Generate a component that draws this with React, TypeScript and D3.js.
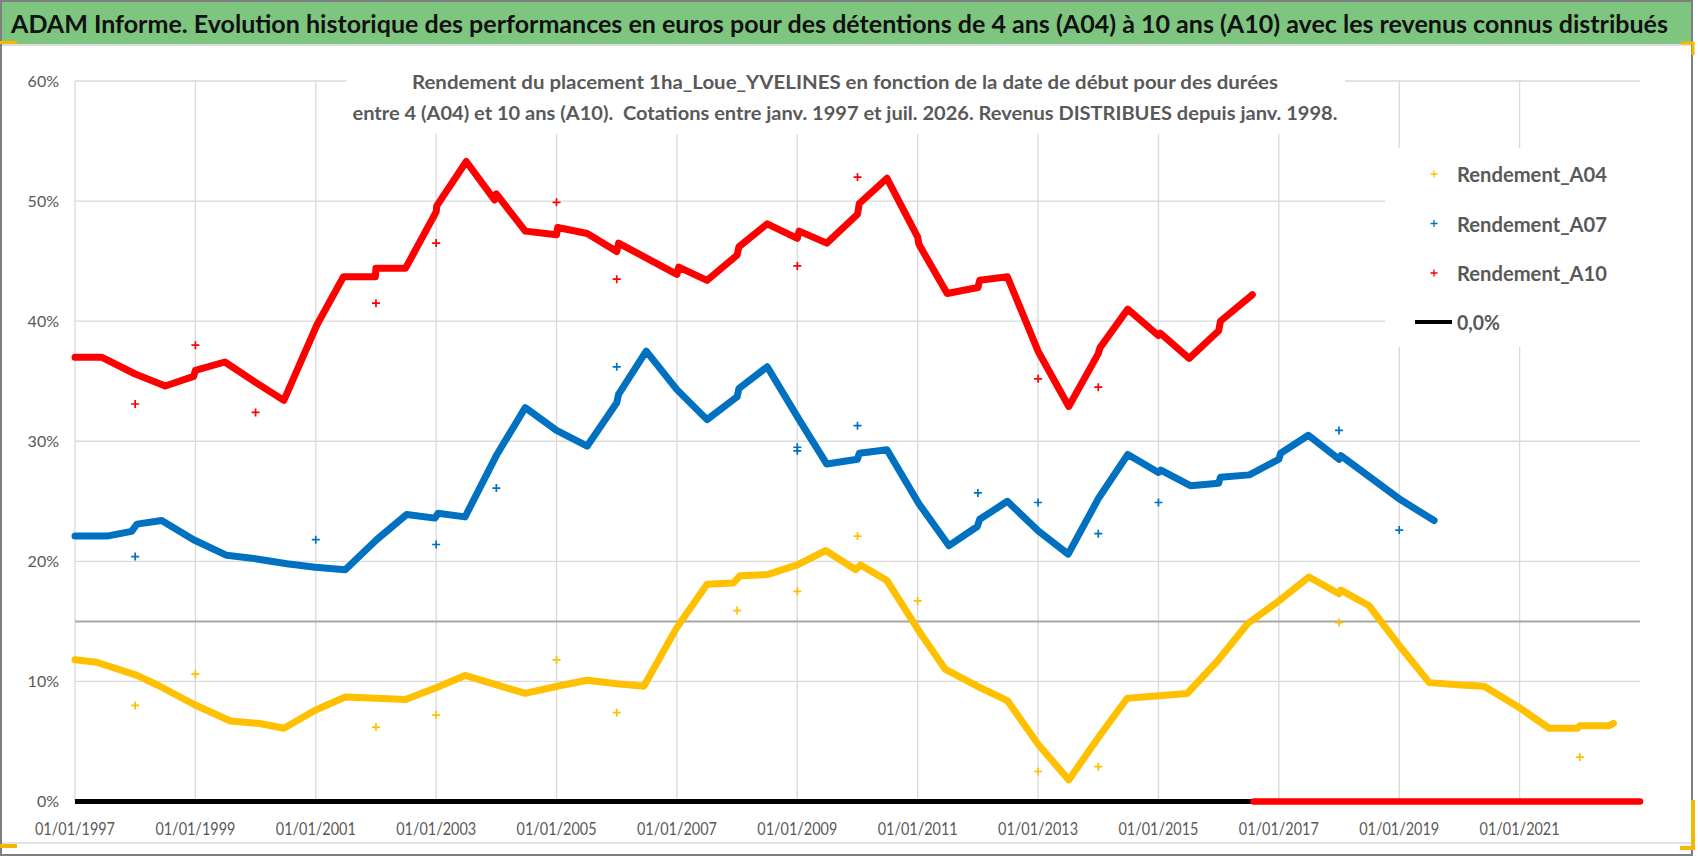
import React from "react";
import * as d3 from "d3";

const W = 1698;
const H = 856;

const titleText =
  "ADAM Informe. Evolution historique des performances en euros pour des détentions de 4 ans (A04) à 10 ans (A10) avec les revenus connus distribués";
const subtitleLines = [
  "Rendement du placement 1ha_Loue_YVELINES en fonction de la date de début pour des durées",
  "entre 4 (A04) et 10 ans (A10).  Cotations entre janv. 1997 et juil. 2026. Revenus DISTRIBUES depuis janv. 1998.",
];

const yearTicks = [1997, 1999, 2001, 2003, 2005, 2007, 2009, 2011, 2013, 2015, 2017, 2019, 2021];
const pctTicks = [0, 10, 20, 30, 40, 50, 60];
const refLevel = 15;

// [decimal year, rendement %]
const serieA04: [number, number][] = [
  [1997.0, 11.8], [1997.36, 11.6], [1998.03, 10.5], [1998.41, 9.6], [1998.97, 8.1],
  [1999.58, 6.7], [2000.07, 6.5], [2000.47, 6.1], [2000.99, 7.6], [2001.49, 8.7],
  [2002.01, 8.6], [2002.49, 8.5], [2003.01, 9.5], [2003.48, 10.5], [2003.95, 9.8],
  [2004.48, 9.0], [2005.01, 9.6], [2005.51, 10.1], [2006.0, 9.8], [2006.45, 9.6],
  [2007.0, 14.5], [2007.5, 18.1], [2007.94, 18.2], [2008.05, 18.8], [2008.5, 18.9],
  [2009.0, 19.7], [2009.47, 20.9], [2009.97, 19.3], [2010.05, 19.7], [2010.49, 18.4],
  [2011.02, 14.2], [2011.46, 11.0], [2011.99, 9.6], [2012.49, 8.4], [2013.01, 4.7],
  [2013.51, 1.8], [2014.04, 5.6], [2014.48, 8.6], [2015.01, 8.8], [2015.48, 9.0],
  [2015.98, 11.7], [2016.48, 14.8], [2017.0, 16.7], [2017.5, 18.7], [2018.0, 17.3],
  [2018.03, 17.6], [2018.5, 16.3], [2019.03, 12.8], [2019.5, 9.9], [2020.02, 9.7],
  [2020.41, 9.6], [2021.0, 7.8], [2021.49, 6.1], [2021.96, 6.1], [2022.0, 6.3],
  [2022.48, 6.3], [2022.56, 6.5],
];

const serieA07: [number, number][] = [
  [1997.0, 22.1], [1997.53, 22.1], [1997.94, 22.5], [1998.03, 23.1], [1998.44, 23.4],
  [1998.97, 21.8], [1999.52, 20.5], [2000.02, 20.2], [2000.52, 19.8], [2000.99, 19.5],
  [2001.49, 19.3], [2002.01, 21.8], [2002.51, 23.9], [2002.98, 23.6], [2003.03, 24.0],
  [2003.48, 23.7], [2004.01, 28.9], [2004.48, 32.8], [2005.0, 30.9], [2005.51, 29.6],
  [2006.0, 33.2], [2006.03, 33.9], [2006.49, 37.5], [2007.0, 34.3], [2007.5, 31.8],
  [2008.0, 33.7], [2008.03, 34.4], [2008.5, 36.2], [2009.03, 31.8], [2009.49, 28.1],
  [2010.0, 28.5], [2010.03, 29.0], [2010.49, 29.3], [2011.02, 24.8], [2011.52, 21.3],
  [2011.99, 22.9], [2012.03, 23.5], [2012.49, 25.0], [2013.01, 22.5], [2013.5, 20.6],
  [2014.01, 25.3], [2014.49, 28.9], [2015.0, 27.4], [2015.04, 27.6], [2015.53, 26.3],
  [2016.0, 26.5], [2016.03, 27.0], [2016.51, 27.2], [2017.0, 28.5], [2017.03, 29.0],
  [2017.49, 30.5], [2018.0, 28.5], [2018.03, 28.8], [2019.03, 25.1], [2019.58, 23.4],
];

const serieA10: [number, number][] = [
  [1997.0, 37.0], [1997.44, 37.0], [1998.0, 35.6], [1998.5, 34.6], [1998.97, 35.4],
  [1999.0, 35.9], [1999.49, 36.6], [2000.0, 34.9], [2000.47, 33.4], [2001.02, 39.7],
  [2001.46, 43.7], [2001.99, 43.7], [2002.0, 44.4], [2002.49, 44.4], [2003.0, 49.1],
  [2003.01, 49.6], [2003.5, 53.3], [2003.97, 50.1], [2004.0, 50.6], [2004.48, 47.5],
  [2005.0, 47.2], [2005.02, 47.8], [2005.51, 47.3], [2006.0, 45.8], [2006.03, 46.5],
  [2007.0, 43.9], [2007.03, 44.5], [2007.5, 43.4], [2008.0, 45.5], [2008.03, 46.2],
  [2008.5, 48.1], [2009.0, 46.9], [2009.03, 47.5], [2009.49, 46.5], [2010.0, 48.9],
  [2010.03, 49.8], [2010.49, 51.9], [2011.0, 47.0], [2011.02, 46.4], [2011.49, 42.3],
  [2012.0, 42.8], [2012.03, 43.4], [2012.49, 43.7], [2013.0, 37.5], [2013.51, 32.9],
  [2014.0, 37.3], [2014.03, 37.8], [2014.49, 41.0], [2015.0, 38.8], [2015.03, 39.0],
  [2015.51, 36.9], [2016.0, 39.2], [2016.03, 40.0], [2016.56, 42.2],
];

// isolated January points off the main bands
const pointsA04: [number, number][] = [
  [1998.0, 8.0], [1999.0, 10.6], [2002.0, 6.2], [2003.0, 7.2], [2005.0, 11.8],
  [2006.0, 7.4], [2008.0, 15.9], [2009.0, 17.5], [2010.0, 22.1], [2011.0, 16.7],
  [2013.0, 2.5], [2014.0, 2.9], [2018.0, 14.9], [2022.0, 3.7],
];
const pointsA07: [number, number][] = [
  [1998.0, 20.4], [2001.0, 21.8], [2003.0, 21.4], [2004.0, 26.1], [2006.0, 36.2],
  [2009.0, 29.2], [2009.0, 29.5], [2010.0, 31.3], [2012.0, 25.7], [2013.0, 24.9],
  [2014.0, 22.3], [2015.0, 24.9], [2018.0, 30.9], [2019.0, 22.6],
];
const pointsA10: [number, number][] = [
  [1998.0, 33.1], [1999.0, 38.0], [2000.0, 32.4], [2002.0, 41.5], [2003.0, 46.5],
  [2005.0, 49.9], [2006.0, 43.5], [2009.0, 44.6], [2010.0, 52.0], [2013.0, 35.2],
  [2014.0, 34.5],
];

const zeroBlack: [number, number][] = [[1997.0, 0], [2016.56, 0]];
const zeroRed: [number, number][] = [[2016.58, 0], [2023.0, 0]];

const legendLabels = ["Rendement_A04", "Rendement_A07", "Rendement_A10", "0,0%"];
const colors = ["#ffc000", "#0070c0", "#ff0000", "#000000"];

const FONT = "Lato, 'Open Sans', 'DejaVu Sans', sans-serif";
const GREY = "#595959";

const x = d3.scaleLinear().domain([1997, 2023]).range([75, 1640]);
const y = d3.scaleLinear().domain([0, 60]).range([801.5, 81]);
const line = d3
  .line<[number, number]>()
  .x((d) => x(d[0]))
  .y((d) => y(d[1]));

const Plus = ({ cx, cy, color, r = 4, w = 1.7 }: { cx: number; cy: number; color: string; r?: number; w?: number }) => (
  <path d={`M${cx - r},${cy}H${cx + r}M${cx},${cy - r}V${cy + r}`} stroke={color} strokeWidth={w} fill="none" />
);

export default function App() {
  const bands = [serieA04, serieA07, serieA10];
  const points = [pointsA04, pointsA07, pointsA10];
  const legendY = [174, 223.5, 273, 322];

  return (
    <svg
      width={W}
      height={H}
      viewBox={`0 0 ${W} ${H}`}
      style={{ position: "absolute", left: 0, top: 0, display: "block", background: "#fff" }}
      fontFamily={FONT}
    >
      {/* title bar */}
      <rect x={0} y={0} width={1692} height={44} fill="#7ec680" />
      <line x1={0} x2={1692} y1={45} y2={45} stroke="#d0d0d0" strokeWidth={1.5} />
      <text x={11} y={33} fontSize={24.5} fontWeight={700} fill="#111" textLength={1657} lengthAdjust="spacingAndGlyphs">
        {titleText}
      </text>

      {/* gridlines */}
      {pctTicks.filter((p) => p > 0).map((p) => (
        <line key={"h" + p} x1={x(1997)} x2={x(2023)} y1={y(p)} y2={y(p)} stroke="#d9d9d9" strokeWidth={1.3} />
      ))}
      {yearTicks.map((t) => (
        <line key={"v" + t} x1={x(t)} x2={x(t)} y1={y(60)} y2={y(0)} stroke="#d9d9d9" strokeWidth={1.3} />
      ))}

      {/* subtitle box */}
      <rect x={346} y={58} width={999} height={76} fill="#fff" />
      {subtitleLines.map((s, i) => (
        <text
          key={s}
          x={845}
          y={89 + i * 31}
          textAnchor="middle"
          fontSize={19}
          fontWeight={700}
          fill={GREY}
          textLength={i === 0 ? 866 : 985}
          lengthAdjust="spacingAndGlyphs"
          style={{ whiteSpace: "pre" }}
        >
          {s}
        </text>
      ))}

      {/* legend box */}
      <rect x={1385} y={148} width={275} height={199} fill="#fff" />

      {/* reference line */}
      <line x1={x(1997)} x2={x(2023)} y1={y(refLevel)} y2={y(refLevel)} stroke="#a6a6a6" strokeWidth={2} />

      {/* zero lines */}
      <path d={line(zeroBlack) ?? ""} stroke="#000" strokeWidth={5} fill="none" />
      <path d={line(zeroRed) ?? ""} stroke="#ff0000" strokeWidth={6.5} fill="none" strokeLinecap="round" />

      {/* series bands */}
      {bands.map((b, i) => (
        <path
          key={"b" + i}
          d={line(b) ?? ""}
          stroke={colors[i]}
          strokeWidth={7}
          fill="none"
          strokeLinejoin="round"
          strokeLinecap="round"
        />
      ))}
      {points.map((pts, i) =>
        pts.map((p, j) => <Plus key={`p${i}-${j}`} cx={x(p[0])} cy={y(p[1])} color={colors[i]} />)
      )}

      {/* axes labels */}
      {pctTicks.map((p) => (
        <text key={"yl" + p} x={59} y={y(p) + 5.5} textAnchor="end" fontSize={16} fill={GREY}>
          {`${p}%`}
        </text>
      ))}
      {yearTicks.map((t) => (
        <text key={"xl" + t} x={x(t)} y={835} textAnchor="middle" fontSize={16.5} fill={GREY} textLength={80} lengthAdjust="spacingAndGlyphs">
          {`01/01/${t}`}
        </text>
      ))}

      {/* legend */}
      {legendLabels.map((l, i) => (
        <g key={l}>
          {i < 3 ? (
            <Plus cx={1434} cy={legendY[i]} color={colors[i]} r={3.5} w={1.3} />
          ) : (
            <line x1={1415} x2={1452} y1={legendY[i]} y2={legendY[i]} stroke="#000" strokeWidth={4} />
          )}
          <text
            x={1457}
            y={legendY[i] + 8}
            fontSize={21.5}
            fontWeight={700}
            fill={GREY}
            textLength={i < 3 ? 150 : 43}
            lengthAdjust="spacingAndGlyphs"
          >
            {l}
          </text>
        </g>
      ))}

      {/* frame and selection handles */}
      <line x1={0} x2={1692} y1={843} y2={843} stroke="#d9d9d9" strokeWidth={1.5} />
      <rect x={1} y={1} width={1691} height={854} fill="none" stroke="#7f7f7f" strokeWidth={2} />
      <rect x={0} y={41} width={17} height={3} fill="#f5b800" />
      <rect x={0} y={844} width={17} height={4} fill="#f5b800" />
      <path d="M1681,43H1693V55" stroke="#f5b800" strokeWidth={3} fill="none" />
      <path d="M1693,800V848H1680" stroke="#f5b800" strokeWidth={4} fill="none" />
    </svg>
  );
}
